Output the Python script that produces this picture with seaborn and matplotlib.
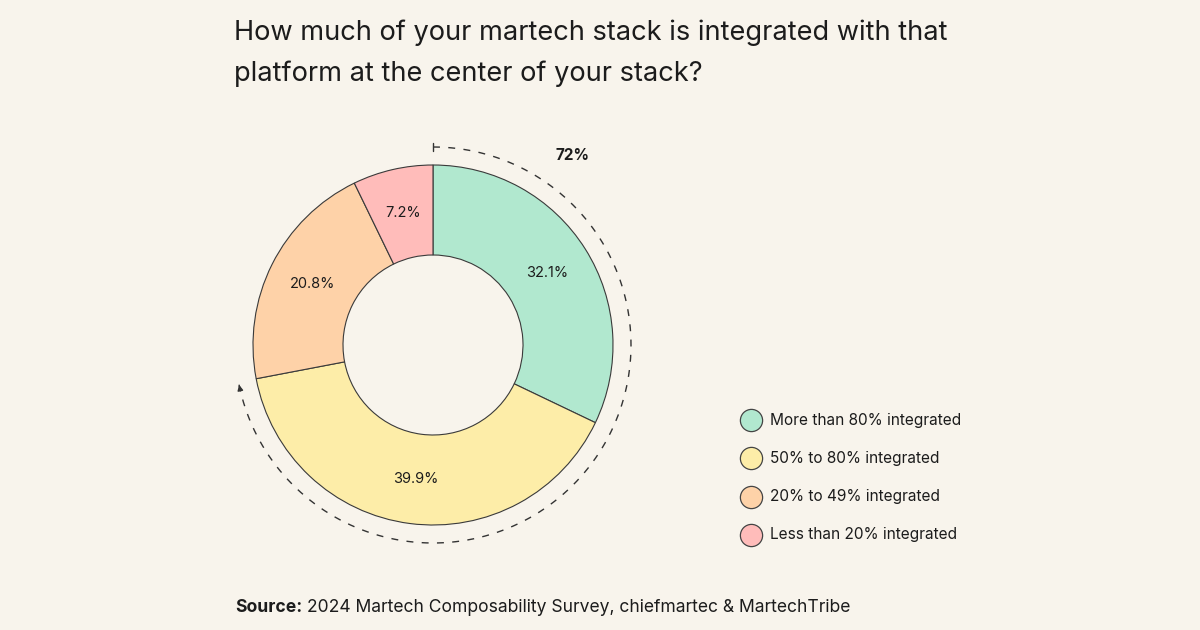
import numpy as np
import matplotlib
matplotlib.use("Agg")
import matplotlib.pyplot as plt
from matplotlib.lines import Line2D
import seaborn as sns

categories = ["More than 80% integrated", "50% to 80% integrated",
              "20% to 49% integrated", "Less than 20% integrated"]
values = [32.1, 39.9, 20.8, 7.2]
colors = ["#B1E8CF", "#FDEDA8", "#FED2A8", "#FFBCBA"]
highlight_label = "72%"
title_lines = ["How much of your martech stack is integrated with that",
               "platform at the center of your stack?"]
source_bold = "Source:"
source_text = " 2024 Martech Composability Survey, chiefmartec & MartechTribe"

BG = "#F8F4EC"
INK = "#1C1C1C"

sns.set_theme(style="white")
plt.rcParams["font.family"] = ["Inter", "DejaVu Sans"]

W, H = 1200, 630
fig = plt.figure(figsize=(12, 6.3), dpi=100, facecolor=BG)

# pie axes: centre at (433,345) px, half-extent 220 px
cx, cy, half = 433, 345, 220
ax = fig.add_axes([(cx - half) / W, (H - cy - half) / H, 2 * half / W, 2 * half / H])
ax.set_facecolor(BG)
ax.axis("off")

palette = sns.color_palette(colors)
R = 180
wedges, texts, autotexts = ax.pie(
    values, colors=palette, startangle=90, counterclock=False, radius=R,
    autopct=lambda p: f"{p:.1f}%", pctdistance=0.75,
    wedgeprops=dict(width=R * 0.5, edgecolor="#3a3a3a", linewidth=0.8),
    textprops=dict(fontsize=10.5, color=INK),
)
ax.set_xlim(-220, 220)
ax.set_ylim(-220, 220)
ax.set_aspect("auto")

# dashed arc covering the first two segments
frac = (values[0] + values[1]) / sum(values)
ra = 198
theta = np.radians(np.linspace(90, 90 - 360 * frac, 300))
ax.plot(ra * np.cos(theta), ra * np.sin(theta), color="#333333", lw=1.0,
        ls=(0, (5, 6)), clip_on=False)
t0 = theta[0]
ax.plot([ra * np.cos(t0), ra * np.cos(t0)], [ra * np.sin(t0) - 4, ra * np.sin(t0) + 4],
        color="#333333", lw=1.0, clip_on=False)
t1, t2 = theta[-1], theta[-4]
ax.annotate("", xy=(ra * np.cos(t1), ra * np.sin(t1)),
            xytext=(ra * np.cos(t2), ra * np.sin(t2)),
            arrowprops=dict(arrowstyle="-|>", color="#333333", lw=1.0,
                            mutation_scale=8), annotation_clip=False)
fig.text(573 / W, 1 - 156 / H, highlight_label, fontsize=11, fontweight="bold",
         color=INK, ha="center", va="center")

# title
for i, line in enumerate(title_lines):
    fig.text(234 / W, 1 - (33 + 41 * i) / H, line, fontsize=19.6, color=INK,
             ha="left", va="center")

# legend (manual)
for i, (lab, c) in enumerate(zip(categories, colors)):
    y = 1 - (420 + 38.3 * i) / H
    fig.add_artist(Line2D([751 / W], [y], transform=fig.transFigure, marker="o",
                          ls="", markersize=16, markerfacecolor=c,
                          markeredgecolor="#444444", markeredgewidth=0.9))
    fig.text(770 / W, y, lab, fontsize=11.1, color=INK, ha="left", va="center")

# source
st = fig.text(235 / W, 1 - 608 / H, source_bold, fontsize=12.6, fontweight="bold",
              color=INK, ha="left", va="center")
fig.canvas.draw()
bb = st.get_window_extent()
fig.text(bb.x1 / W, 1 - 608 / H, source_text, fontsize=12.6, color=INK,
         ha="left", va="center")

fig.savefig("out.png", dpi=100, facecolor=BG)
